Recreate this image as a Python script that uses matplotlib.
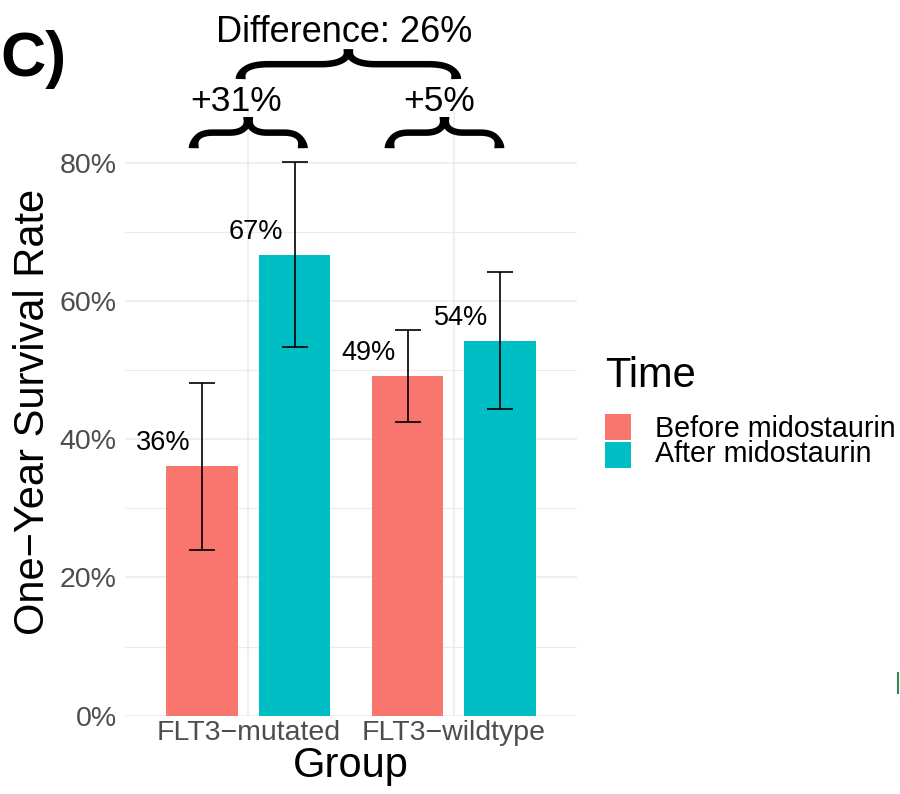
import numpy as np
import matplotlib
matplotlib.use("Agg")
import matplotlib.pyplot as plt
from matplotlib.patches import Polygon, Rectangle
from matplotlib.transforms import IdentityTransform
from matplotlib.lines import Line2D

plt.rcParams['font.family'] = ['Liberation Sans', 'DejaVu Sans']

# ---------------- data ----------------
groups = ["FLT3\u2212mutated", "FLT3\u2212wildtype"]
times = ["Before midostaurin", "After midostaurin"]
before = [36.1, 49.1]
after = [66.7, 54.2]
before_lo = [24.0, 42.5]
before_hi = [48.2, 55.8]
after_lo = [53.4, 44.3]
after_hi = [80.1, 64.2]
y_ticks = [0, 20, 40, 60, 80]
y_minor = [10, 30, 50, 70]
colors = ["#F8766D", "#00BFC4"]

W, H = 900, 794
fig = plt.figure(figsize=(W / 100, H / 100), dpi=100)
ax_left, ax_right, ax_top, ax_bot = 125, 577, 107.4, 715.7
ax = fig.add_axes([ax_left / W, (H - ax_bot) / H, (ax_right - ax_left) / W, (ax_bot - ax_top) / H])
ax.set_xlim(0.4, 2.6)
ax.set_ylim(0, 88)

grid_c = "#EBEBEB"
for yv in y_ticks:
    ax.axhline(yv, color=grid_c, lw=1.1, zorder=0)
for yv in y_minor:
    ax.axhline(yv, color=grid_c, lw=0.8, zorder=0)
xpos = np.arange(1, len(groups) + 1)
for xv in xpos:
    ax.axvline(xv, color=grid_c, lw=1.1, zorder=0)

dodge = 0.225
bw = 0.35
series = [(before, before_lo, before_hi), (after, after_lo, after_hi)]
for i, (vals, lo, hi) in enumerate(series):
    xs = xpos + (-dodge if i == 0 else dodge)
    vals = np.array(vals); lo = np.array(lo); hi = np.array(hi)
    ax.bar(xs, vals, width=bw, color=colors[i], zorder=2, label=times[i])
    ax.errorbar(xs, vals, yerr=[vals - lo, hi - vals], fmt='none', ecolor='black',
                elinewidth=1.2, capsize=9.1, capthick=1.2, zorder=3)
    for xx, v in zip(xs, vals):
        ax.text(xx - 0.19, v + 2.3, f"{round(v)}%", ha='center', va='baseline',
                fontsize=19.5, color='black', zorder=4)

for s in ax.spines.values():
    s.set_visible(False)
ax.set_xticks(xpos)
ax.set_xticklabels(groups)
ax.set_yticks(y_ticks)
ax.set_yticklabels([f"{t}%" for t in y_ticks])
ax.tick_params(axis='both', length=0, labelsize=20.5, colors='#4D4D4D')
ax.tick_params(axis='x', pad=3)
ax.tick_params(axis='y', pad=6)
ax.set_xlabel("Group", fontsize=30)
ax.set_ylabel("One\u2212Year Survival Rate", fontsize=30)
ax.xaxis.set_label_coords(0.5, -0.050)
ax.yaxis.set_label_coords(-0.159, 0.5)

# ---------------- braces & annotations ----------------
r_b = [round(v) for v in before]
r_a = [round(v) for v in after]
diffs = [a - b for a, b in zip(r_a, r_b)]


def brace(x0d, x1d, ybd, ytd, r, w_mid=6.5, w_end=10.0, w_tip=9.5):
    (x0, yb), (x1, yt) = ax.transData.transform([(x0d, ybd), (x1d, ytd)])
    xc = (x0 + x1) / 2
    ym = (yb + yt) / 2
    for sgn, xe in ((1, x0), (-1, x1)):
        t = np.linspace(0, 1, 40)[:, None]
        p0 = np.array([xe, yb]); p1 = np.array([xe, ym]); p2 = np.array([xe + sgn * r, ym])
        c1 = (1 - t) ** 2 * p0 + 2 * (1 - t) * t * p1 + t ** 2 * p2
        q0 = np.array([xc - sgn * r, ym]); q1 = np.array([xc, ym]); q2 = np.array([xc, yt])
        c2 = (1 - t) ** 2 * q0 + 2 * (1 - t) * t * q1 + t ** 2 * q2
        pts = np.vstack([c1, c2])
        n = len(pts)
        s = np.linspace(0, 1, n)
        w = w_mid + (w_end - w_mid) * np.exp(-(s / 0.12) ** 2) + (w_tip - w_mid) * np.exp(-((1 - s) / 0.12) ** 2)
        d = np.gradient(pts, axis=0)
        d /= np.linalg.norm(d, axis=1)[:, None]
        nrm = np.column_stack([-d[:, 1], d[:, 0]])
        left = pts + nrm * (w / 2)[:, None]
        right = pts - nrm * (w / 2)[:, None]
        poly = np.vstack([left, right[::-1]])
        fig.add_artist(Polygon(poly, closed=True, transform=IdentityTransform(),
                               facecolor='black', edgecolor='none'))


brace(1 - 0.2655, 1 + 0.2655, 82.1, 86.6, 19)
brace(1.955 - 0.267, 1.955 + 0.267, 82.1, 86.6, 19)
brace(0.963, 2.012, 92.1, 96.4, 28)

ax.text(0.94, 87.5, f"+{diffs[0]}%", ha='center', va='baseline', fontsize=25.5, clip_on=False)
ax.text(1.928, 87.5, f"+{diffs[1]}%", ha='center', va='baseline', fontsize=25.5, clip_on=False)
ax.text(1.465, 97.5, f"Difference: {diffs[0] - diffs[1]}%", ha='center', va='baseline',
        fontsize=26, clip_on=False)

# ---------------- legend ----------------
fig.text(605 / W, 1 - 386.7 / H, "Time", fontsize=30, ha='left', va='baseline')
key_rows = [(414, 440, 436.7), (442, 468, 461.7)]
for i, (yt_, yb_, base) in enumerate(key_rows):
    fig.add_artist(Rectangle((605 / W, 1 - yb_ / H), 26 / W, (yb_ - yt_) / H,
                             transform=fig.transFigure, facecolor=colors[i], edgecolor='none'))
    fig.text(655 / W, 1 - base / H, times[i], fontsize=20.6, ha='left', va='baseline')

# panel tag
fig.text(0.0, 1 - 76 / H, "C)", fontsize=45, fontweight='bold', ha='left', va='baseline')

# small mark at right edge
fig.add_artist(Line2D([898.3 / W, 898.3 / W], [1 - 672.7 / H, 1 - 692.7 / H],
                      transform=fig.transFigure, color='#2E8B57', lw=1.5))

fig.savefig("out.png", dpi=100)
